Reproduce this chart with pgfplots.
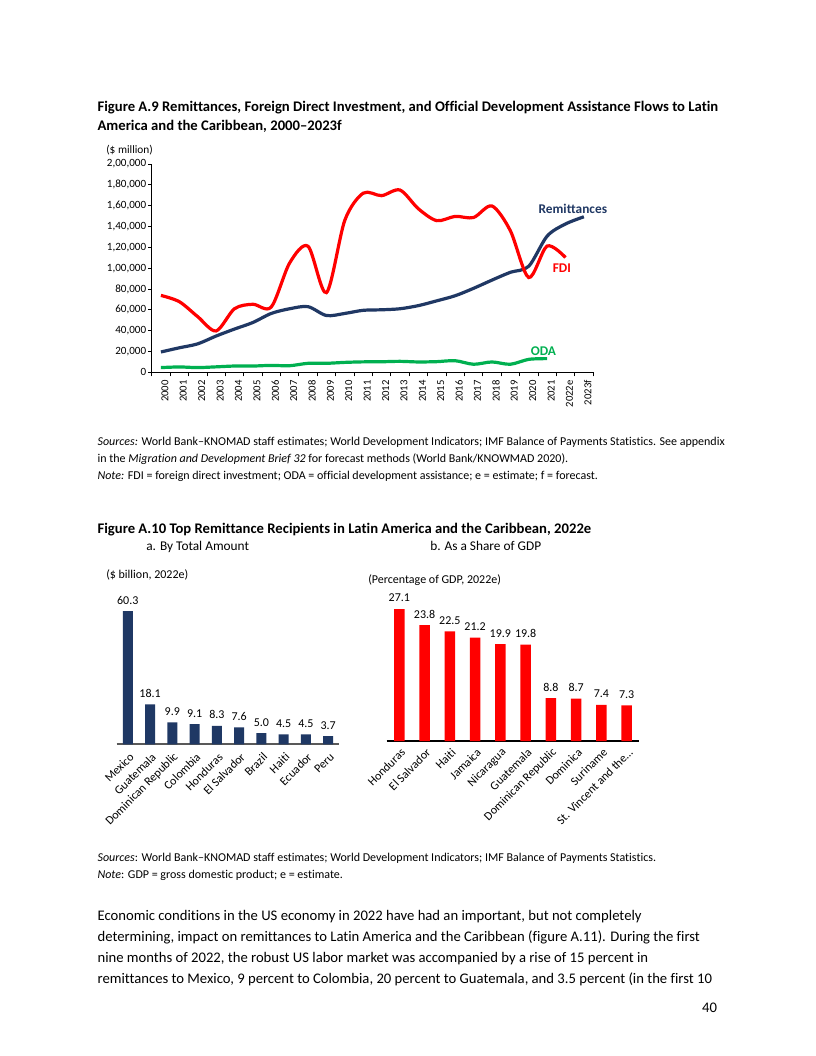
\documentclass[border=0pt]{standalone}
\usepackage{fontspec}
\setmainfont{Carlito}[Ligatures=NoCommon]
\usepackage{pgfplots}
\pgfplotsset{compat=1.18}
\definecolor{remit}{HTML}{203864}
\definecolor{fdi}{HTML}{FF0000}
\definecolor{oda}{HTML}{00B050}
\definecolor{barblue}{HTML}{1F3864}
\definecolor{axgray}{HTML}{595959}
\newcommand{\fs}[1]{\fontsize{#1}{#1}\selectfont}

\begin{document}
\begin{tikzpicture}
\path[fill=white] (0,0) rectangle (612pt,-792pt);

% ---------- Figure A.9 ----------
\node[anchor=base west,inner sep=0,font=\fs{11}\bfseries] at (73pt,-83.25pt) {Figure A.9 Remittances, Foreign Direct Investment, and Official Development Assistance Flows to Latin};
\node[anchor=base west,inner sep=0,font=\fs{11}\bfseries] at (73pt,-97.5pt) {America and the Caribbean, 2000–2023f};
\node[anchor=base west,inner sep=0,font=\fs{8.5}] at (79.5pt,-115pt) {(\$ million)};

\begin{axis}[
  at={(113.8pt,-279.2pt)}, anchor=south west,
  scale only axis, width=331pt, height=156.2pt,
  xmin=-0.5, xmax=23.5, ymin=0, ymax=200000,
  axis x line=bottom, axis y line=left,
  axis line style={-, black, line width=0.6pt},
  clip=false,
  tick align=outside,
  tick style={black, line width=0.6pt},
  major tick length=2.5pt, minor tick length=3pt,
  scaled y ticks=false,
  ytick={0,20000,40000,60000,80000,100000,120000,140000,160000,180000,200000},
  yticklabels={0,{20,000},{40,000},{60,000},{80,000},{1,00,000},{1,20,000},{1,40,000},{1,60,000},{1,80,000},{2,00,000}},
  xtick={0,...,23},
  xticklabels={2000,2001,2002,2003,2004,2005,2006,2007,2008,2009,2010,2011,2012,2013,2014,2015,2016,2017,2018,2019,2020,2021,2022e,2023f},
  minor xtick={-0.5,0.5,...,23.5},
  major x tick style={draw=none},
  xticklabel style={font=\fs{8}, rotate=90, anchor=east, xshift=0pt, yshift=-3pt},
  yticklabel style={font=\fs{8.3}, inner sep=1.5pt},
  /pgf/number format/assume math mode=true,
]
\addplot[remit, line width=2.4pt, smooth, tension=0.5] coordinates {
 (0,19500) (1,23500) (2,27300) (3,34800) (4,41500) (5,47800) (6,56500) (7,61000) (8,63000) (9,54500) (10,56500) (11,59500) (12,60000) (13,61000) (14,64000) (15,68600) (16,73500) (17,80600) (18,88500) (19,96000) (20,101800) (21,130700) (22,142400) (23,149300)};
\addplot[fdi, line width=2.4pt, smooth, tension=0.5] coordinates {
 (0,73800) (1,67800) (2,53400) (3,39700) (4,61000) (5,65300) (6,62700) (7,105000) (8,121000) (9,76500) (10,146000) (11,172000) (12,169600) (13,175000) (14,157000) (15,145600) (16,149700) (17,148600) (18,159700) (19,136000) (20,91000) (21,121200) (22,110200)};
\addplot[oda, line width=2.4pt, smooth, tension=0.5] coordinates {
 (0,4500) (1,5100) (2,4500) (3,5200) (4,6000) (5,6000) (6,6600) (7,6300) (8,8600) (9,8600) (10,9500) (11,10000) (12,10100) (13,10500) (14,9900) (15,10200) (16,11100) (17,7700) (18,9900) (19,7700) (20,12400) (21,13100)};
\node[font=\fs{10}\bfseries, text=remit] at (axis cs:22.4,156800) {Remittances};
\node[font=\fs{10}\bfseries, text=fdi] at (axis cs:21.8,100100) {FDI};
\node[font=\fs{10}\bfseries, text=oda] at (axis cs:20.8,20450) {ODA};
\end{axis}

\node[anchor=base west,inner sep=0,font=\fs{9}] at (73pt,-333.75pt) {\textit{Sources:} World Bank–KNOMAD staff estimates; World Development Indicators; IMF Balance of Payments Statistics. See appendix};
\node[anchor=base west,inner sep=0,font=\fs{9}] at (73pt,-346.5pt) {in the \textit{Migration and Development Brief 32} for forecast methods (World Bank/KNOWMAD 2020).};
\node[anchor=base west,inner sep=0,font=\fs{9}] at (73pt,-359.25pt) {\textit{Note:} FDI = foreign direct investment; ODA = official development assistance; e = estimate; f = forecast.};

% ---------- Figure A.10 ----------
\node[anchor=base west,inner sep=0,font=\fs{11}\bfseries] at (73pt,-399.75pt) {Figure A.10 Top Remittance Recipients in Latin America and the Caribbean, 2022e};
\node[anchor=base west,inner sep=0,font=\fs{10}] at (109.5pt,-412.5pt) {a. By Total Amount};
\node[anchor=base west,inner sep=0,font=\fs{10}] at (322.5pt,-412.5pt) {b. As a Share of GDP};
\node[anchor=base west,inner sep=0,font=\fs{9}] at (79.5pt,-433.5pt) {(\$ billion, 2022e)};
\node[anchor=base west,inner sep=0,font=\fs{9}] at (276pt,-437.25pt) {(Percentage of GDP, 2022e)};

\begin{axis}[
  at={(87.5pt,-558.2pt)}, anchor=south west,
  scale only axis, width=167pt, height=116pt,
  xmin=-0.5, xmax=9.5, ymin=0, ymax=70,
  axis x line=bottom, axis y line=none,
  axis line style={-, axgray, line width=1.2pt},
  clip=false,
  ybar, bar width=7.5pt, bar shift=0pt,
  xtick={0,1,2,3,4,5,6,7,8,9}, major tick length=0pt,
  xticklabels={Mexico,Guatemala,Dominican Republic,Colombia,Honduras,El Salvador,Brazil,Haiti,Ecuador,Peru},
  xticklabel style={font=\fs{9}, xshift=3pt, yshift=-8pt, rotate=45, anchor=east, inner sep=0pt},
  nodes near coords,
  nodes near coords style={font=\fs{9}, anchor=south, inner sep=0pt, yshift=5pt,
    /pgf/number format/.cd, fixed, fixed zerofill, precision=1, assume math mode=true},
]
\addplot[fill=barblue, draw=none] coordinates {
 (0,60.3) (1,18.1) (2,9.9) (3,9.1) (4,8.3) (5,7.6) (6,5.0) (7,4.5) (8,4.5) (9,3.7)};
\end{axis}

\begin{axis}[
  at={(290pt,-555.75pt)}, anchor=south west,
  scale only axis, width=189.5pt, height=116.9pt,
  xmin=-0.5, xmax=9.5, ymin=0, ymax=32,
  axis x line=bottom, axis y line=none,
  axis line style={-, black, line width=1.1pt},
  clip=false,
  ybar, bar width=7.9pt, bar shift=0pt,
  xtick={0,1,2,3,4,5,6,7,8,9}, major tick length=0pt,
  xticklabels={Honduras,El Salvador,Haiti,Jamaica,Nicaragua,Guatemala,Dominican Republic,Dominica,Suriname,{St. Vincent and the…}},
  xticklabel style={font=\fs{9}, xshift=3pt, yshift=-7pt, rotate=45, anchor=east, inner sep=0pt},
  nodes near coords,
  nodes near coords style={font=\fs{9}, anchor=south, inner sep=0pt, yshift=5pt,
    /pgf/number format/.cd, fixed, fixed zerofill, precision=1, assume math mode=true},
]
\addplot[fill=fdi, draw=none] coordinates {
 (0,27.1) (1,23.8) (2,22.5) (3,21.2) (4,19.9) (5,19.8) (6,8.8) (7,8.7) (8,7.4) (9,7.3)};
\end{axis}

\node[anchor=base west,inner sep=0,font=\fs{9}] at (73pt,-645.75pt) {\textit{Sources}: World Bank–KNOMAD staff estimates; World Development Indicators; IMF Balance of Payments Statistics.};
\node[anchor=base west,inner sep=0,font=\fs{9}] at (73pt,-658.5pt) {\textit{Note}: GDP = gross domestic product; e = estimate.};

% ---------- Body text ----------
\node[anchor=base west,inner sep=0,font=\fs{11}] at (73pt,-690pt) {Economic conditions in the US economy in 2022 have had an important, but not completely};
\node[anchor=base west,inner sep=0,font=\fs{11}] at (73pt,-705.75pt) {determining, impact on remittances to Latin America and the Caribbean (figure A.11). During the first};
\node[anchor=base west,inner sep=0,font=\fs{11}] at (73pt,-721.5pt) {nine months of 2022, the robust US labor market was accompanied by a rise of 15 percent in};
\node[anchor=base west,inner sep=0,font=\fs{11}] at (73pt,-737.25pt) {remittances to Mexico, 9 percent to Colombia, 20 percent to Guatemala, and 3.5 percent (in the first 10};
\node[anchor=base east,inner sep=0,font=\fs{11}] at (538pt,-759pt) {40};
\end{tikzpicture}
\end{document}
